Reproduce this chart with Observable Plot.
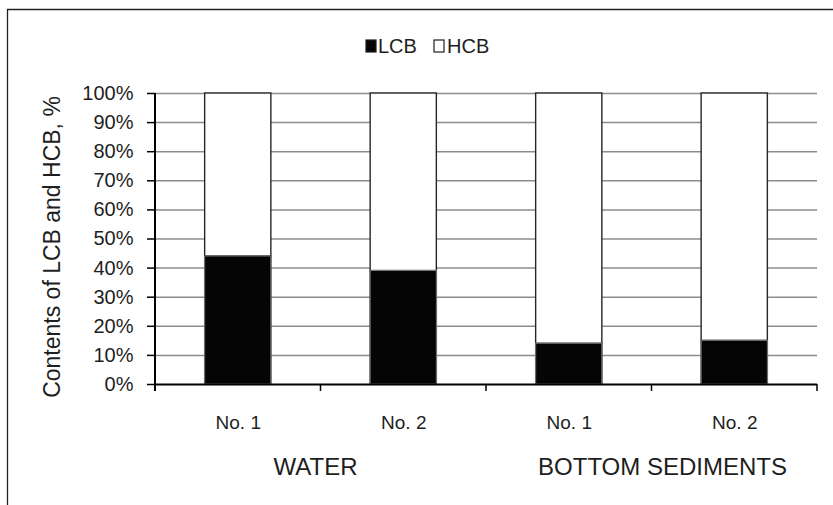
<!DOCTYPE html>
<html><head><meta charset="utf-8">
<script src="https://cdn.jsdelivr.net/npm/d3@7"></script>
<script src="https://cdn.jsdelivr.net/npm/@observablehq/plot@0.6"></script>
<style>html,body{margin:0;padding:0;background:#fff;}</style>
</head><body><div id="chart"></div>
<script>
// ---- data ----
const groups  = ["WATER", "WATER", "BOTTOM SEDIMENTS", "BOTTOM SEDIMENTS"];
const samples = ["No. 1", "No. 2", "No. 1", "No. 2"];
const lcb = [44, 39, 14, 15];
const hcb = [56, 61, 86, 85];
const series = ["LCB", "HCB"];
const seriesColors = ["#050505", "#ffffff"];
const yTicks = [0, 10, 20, 30, 40, 50, 60, 70, 80, 90, 100];
const yTitle = "Contents of LCB and HCB, %";
const groupLabelDx = {"WATER": -5, "BOTTOM SEDIMENTS": 11};

// ---- table ----
const keys = samples.map((s, i) => groups[i] + "|" + s);
const rows = keys.flatMap((k, i) => [
  {key: k, series: "LCB", value: lcb[i]},
  {key: k, series: "HCB", value: hcb[i]}
]);

const W = 833, H = 505;
const plot = Plot.plot({
  width: W, height: H,
  marginLeft: 155, marginRight: 16, marginTop: 93, marginBottom: 121,
  style: {fontFamily: "'Liberation Sans', Arial, sans-serif", fontSize: "19px", color: "#1e1e1e", background: "#fff", overflow: "visible"},
  x: {domain: keys, paddingInner: 0.6, paddingOuter: 0.3, round: false, tickSize: 0, tickPadding: 31,
      tickFormat: k => k.split("|")[1], label: null},
  y: {domain: [0, 100], ticks: yTicks, tickFormat: d => d + "%", tickSize: 8, tickPadding: 14, label: null},
  color: {domain: series, range: seriesColors},
  marks: [
    Plot.ruleY(yTicks.filter(d => d > 0), {stroke: "#8c8c8c", strokeWidth: 1.5}),
    Plot.barY(rows, Plot.stackY({x: "key", y: "value", fill: "series", order: series,
      stroke: "#262626", strokeWidth: 1.4, insetLeft: 0, insetRight: 0})),
    Plot.barY(rows, Plot.stackY({filter: d => d.series === "LCB", x: "key", y: "value", fill: "series",
      stroke: "#7a7a7a", strokeWidth: 1, insetLeft: 0, insetRight: 0})),
    Plot.ruleY([0], {stroke: "#000", strokeWidth: 2})
  ]
});
document.getElementById("chart").appendChild(plot);

// ---- decorations using the plot's own scales ----
const svg = d3.select(plot);
const xs = plot.scale("x"), ys = plot.scale("y");
const band = d3.scaleBand().domain(xs.domain).range(xs.range)
  .paddingInner(0.6).paddingOuter(0.3);
const ylin = d3.scaleLinear(ys.domain, ys.range);
const y0 = ylin(0), y100 = ylin(100);
const x0 = xs.range[0], step = band.step();

svg.selectAll("g[aria-label^='x-axis'] text")
  .style("font-size", "19px").attr("font-size", 19);
svg.selectAll("g[aria-label^='y-axis'] text")
  .style("font-size", "20px").attr("font-size", 20);
svg.selectAll("g[aria-label^='y-axis'] path, g[aria-label^='y-axis'] line")
  .attr("stroke", "#000").attr("stroke-width", 1.5);

const deco = svg.append("g").attr("text-anchor", "start");
// y axis line
deco.append("line").attr("x1", x0).attr("x2", x0).attr("y1", y100).attr("y2", y0 + 7)
  .attr("stroke", "#000").attr("stroke-width", 2);
// boundary ticks on the category axis
d3.range(keys.length + 1).forEach(i => {
  const x = x0 + i * step;
  deco.append("line").attr("x1", x).attr("x2", x).attr("y1", y0).attr("y2", y0 + 7)
    .attr("stroke", "#000").attr("stroke-width", 1.5);
});
// group labels
const uniq = Array.from(new Set(groups));
uniq.forEach(g => {
  const ks = keys.filter((k, i) => groups[i] === g);
  const cx = d3.mean(ks, k => band(k) + band.bandwidth() / 2);
  deco.append("text").attr("x", cx).attr("dx", groupLabelDx[g] || 0).attr("y", 475)
    .attr("text-anchor", "middle").style("font-size", "24px").attr("fill", "#1e1e1e").text(g);
});
// y title
deco.append("text").attr("transform", "translate(59.5,247) rotate(-90)")
  .attr("text-anchor", "middle").style("font-size", "23px").attr("fill", "#1e1e1e").text(yTitle);
// legend
const leg = [{x: 366, tx: 378}, {x: 434, tx: 447}];
series.forEach((s, i) => {
  deco.append("rect").attr("x", leg[i].x).attr("y", 40).attr("width", 10).attr("height", 12)
    .attr("fill", seriesColors[i]).attr("stroke", "#1e1e1e").attr("stroke-width", 1.2);
  deco.append("text").attr("x", leg[i].tx).attr("y", 52.5).attr("text-anchor", "start")
    .style("font-size", "20px").attr("fill", "#1e1e1e").text(s);
});
// outer border (top and left edges visible)
deco.append("path").attr("d", `M7.5,${H} V9.5 H${W}`).attr("fill", "none")
  .attr("stroke", "#222").attr("stroke-width", 1.3);
</script></body></html>
